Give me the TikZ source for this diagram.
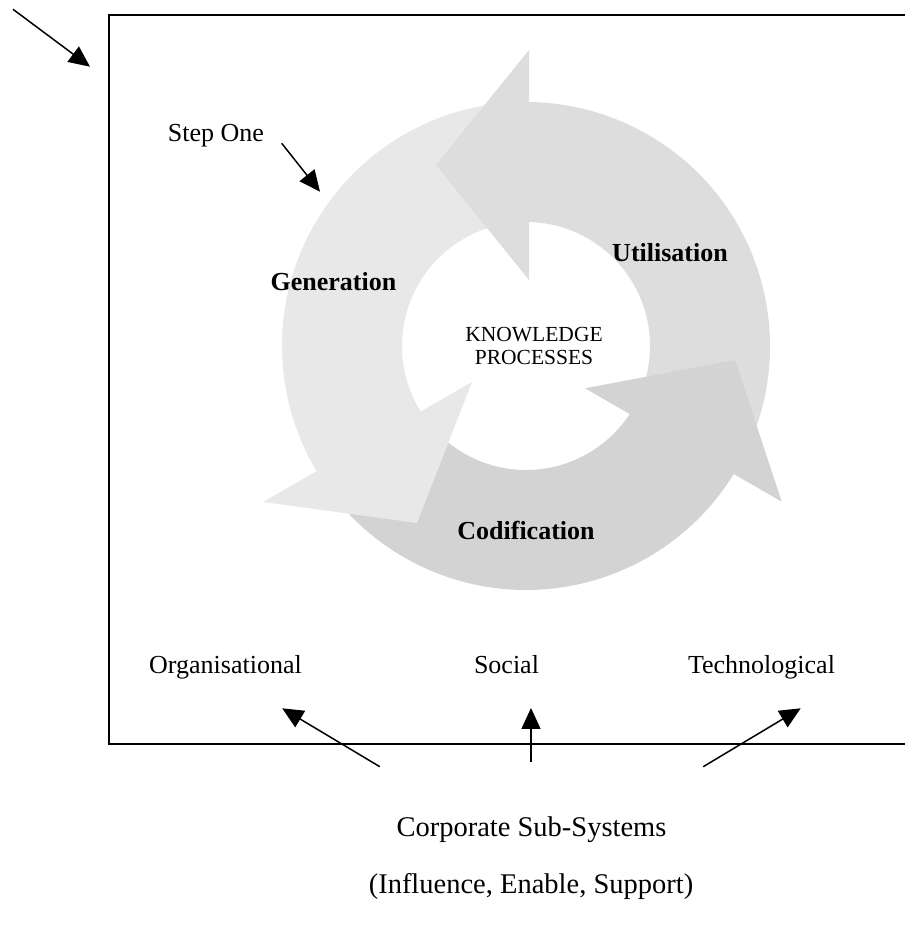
\documentclass[tikz,border=0pt]{standalone}
\usepackage{fontspec}
\setmainfont{Liberation Serif}
\usetikzlibrary{arrows.meta,calc}
\definecolor{cgen}{HTML}{E8E8E8}
\definecolor{cuti}{HTML}{DDDDDD}
\definecolor{ccod}{HTML}{D3D3D3}
\begin{document}
\begin{tikzpicture}[x=1pt,y=1pt,
  lbl/.style={anchor=base,inner sep=0pt,font=\fontsize{26}{28}\selectfont},
  blbl/.style={anchor=base,inner sep=0pt,font=\fontsize{26}{28}\selectfont\bfseries},
  small/.style={anchor=base,inner sep=0pt,font=\fontsize{21.5}{23}\selectfont},
  big/.style={anchor=base,inner sep=0pt,font=\fontsize{28.5}{30}\selectfont},
  conn/.style={line width=1.5pt,-{Triangle[length=21pt,width=19pt]}},
  frameline/.style={line width=2pt},
]
\useasboundingbox (0,0) rectangle (905,925);
\coordinate (C) at (526,579);

% shafts
\fill[cgen] ($(C)+(93:244pt)$) arc[start angle=93,end angle=212.4,radius=244pt]
  -- ($(C)+(213.5:124pt)$) arc[start angle=213.5,end angle=93,radius=124pt] -- cycle;
\fill[ccod] ($(C)+(215:244pt)$) arc[start angle=215,end angle=329.9,radius=244pt]
  -- ($(C)+(328.3:124pt)$) arc[start angle=328.3,end angle=215,radius=124pt] -- cycle;
\fill[cuti] ($(C)+(332:244pt)$) arc[start angle=332,end angle=450.8,radius=244pt]
  -- ($(C)+(450.1:124pt)$) arc[start angle=450.1,end angle=332,radius=124pt] -- cycle;
% heads
\fill[cgen] (263,423) -- (417,402) -- (472,543) -- cycle;
\fill[ccod] (585,536.7) -- (735,565) -- (781.7,423.3) -- cycle;
\fill[cuti] (529,875) -- (436,760) -- (529,645) -- cycle;

% frame
\draw[frameline] (905,910) -- (109,910) -- (109,181) -- (905,181);

% texts
\node[lbl] (step) at (216,783.3) {Step One};
\node[blbl] (gen) at (333.5,634) {Generation};
\node[blbl] (uti) at (670,663) {Utilisation};
\node[blbl] (cod) at (526,385) {Codification};
\node[small] (kn) at (534,583.3) {KNOWLEDGE};
\node[small] (pr) at (534,560) {PROCESSES};
\node[lbl] (org) at (225.5,251) {Organisational};
\node[lbl] (soc) at (506.5,251) {Social};
\node[lbl] (tech) at (761.5,251) {Technological};
\node[big] (corp) at (531.5,88) {Corporate Sub-Systems};
\node[big] (infl) at (531,31) {(Influence, Enable, Support)};

% connectors
\coordinate (tl0) at (13,915.7);
\coordinate (tl1) at (90,858.3);
\coordinate (st0) at (281.7,781.7);
\coordinate (st1) at (320,733.3);
\coordinate (o0) at (379.8,158.3);
\coordinate (o1) at (282.2,216.7);
\coordinate (s0) at (531,163.3);
\coordinate (s1) at (531,217);
\coordinate (t0) at (703.2,158.3);
\coordinate (t1) at (800.7,216.7);
\draw[conn] (tl0) -- (tl1);
\draw[conn] (st0) -- (st1);
\draw[conn] (o0) -- (o1);
\draw[conn] (s0) -- (s1);
\draw[conn] (t0) -- (t1);
\end{tikzpicture}
\end{document}
